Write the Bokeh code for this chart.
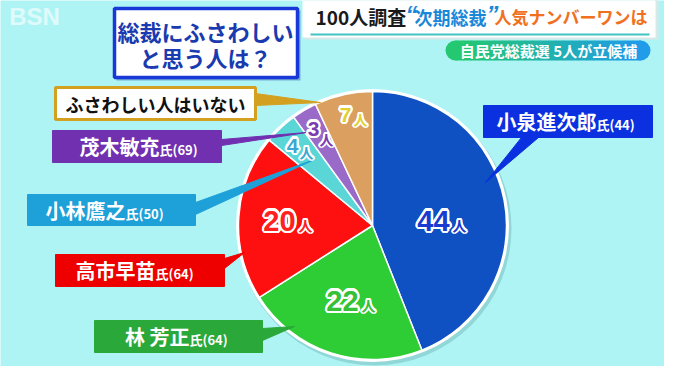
import math
from bokeh.plotting import figure
from bokeh.models import Range1d, ColumnDataSource
from bokeh.core.properties import value
from bokeh.embed import file_html
from bokeh.resources import INLINE

# ---------------- data ----------------
names = ["小泉進次郎", "林 芳正", "高市早苗", "小林鷹之", "茂木敏充", "ふさわしい人はいない"]
ages = ["(44)", "(64)", "(64)", "(50)", "(69)", ""]
counts = [44, 22, 20, 4, 3, 7]
unit = "人"
title_black = "100人調査"
title_blue = "次期総裁"
title_orange = "人気ナンバーワンは"
subtitle = "自民党総裁選 5人が立候補"
question = ["総裁にふさわしい", "と思う人は？"]

# ---------------- styles ----------------
BG = "#aff4f4"
JP = value("Noto Sans CJK JP")
pie_colors = ["#0f50c2", "#2ecc35", "#ff1010", "#5ad6d6", "#9a6ac8", "#dba060"]
num_colors = ["#1a3ad0", "#36c036", "#ff2020", "#3aa8d0", "#7a3ab0", "#e2d030"]
box_fill = ["#0a30e0", "#2ba83a", "#ee0000", "#1ea0d8", "#7030b0", "#ffffff"]
box_line = ["#0a30e0", "#2ba83a", "#ee0000", "#1ea0d8", "#7030b0", "#d4a020"]
lead_color = ["#0a30e0", "#2ba83a", "#ee0000", "#1ea0d8", "#7030b0", "#d4a020"]
text_color = ["white", "white", "white", "white", "white", "#111111"]

# layout (image pixel coords, y down)
CX, CY, R = 380, 233, 134
box_l = [491, 102, 63, 35, 60, 63]
box_r = [660, 270, 232, 203, 229, 263]
box_t = [113, 328, 262, 202, 138, 95]
box_b = [145, 360, 294, 233, 170, 127]
split_x = [604, 197, 163, 133, 167, 164]
name_size = ["20px", "20px", "20px", "20px", "20px", "18px"]
leaders = [
    [(529, 145), (546, 145), (493, 190)],
    [(270, 336), (270, 348), (302, 334)],
    [(232, 266), (232, 276), (252, 260)],
    [(203, 210), (203, 222), (322, 167)],
    [(229, 147), (229, 153), (314, 140)],
    [(263, 101), (263, 113), (328, 110)],
]
num_x = [441, 350, 287, 300, 321, 353]
num_y = [228, 308, 228, 153, 136, 122]
num_size = ["29px", "29px", "29px", "21px", "21px", "21px"]
unit_dx = [26, 26, 26, 14, 13, 15]
unit_dy = [4, 4, 4, 6, 10, 4]


def Y(v):
    return 382 - v


p = figure(width=664, height=366, x_range=Range1d(8, 672), y_range=Range1d(8, 374),
           output_backend="svg", toolbar_location=None, min_border=0)
p.axis.visible = False
p.grid.visible = False
p.outline_line_color = None
p.background_fill_color = BG
p.border_fill_color = BG


def outlined(x, y, txt, font, size, color, align="center", width=2.2):
    offs = [(width * math.cos(k * math.pi / 8), width * math.sin(k * math.pi / 8)) for k in range(16)]
    p.text(x=[x] * len(offs), y=[y] * len(offs), text=[txt] * len(offs), x_offset=[o[0] for o in offs],
           y_offset=[o[1] for o in offs], text_font=font, text_font_size=size, text_font_style="bold",
           text_color="white", text_baseline="middle", text_align=align)
    p.text(x=[x], y=[y], text=[txt], text_font=font, text_font_size=size, text_font_style="bold",
           text_color=color, text_baseline="middle", text_align=align)


# ---- header ----
p.quad(left=[312], right=[666], top=[Y(4)], bottom=[Y(47)], fill_color="#d8e8e8", line_color=None)
p.quad(left=[310], right=[663], top=[Y(3)], bottom=[Y(45)], fill_color="white", line_color=None)
p.segment(x0=[318], y0=[Y(42)], x1=[657], y1=[Y(42)], line_color="#40c4c4", line_width=2)
p.text(x=[323], y=[Y(24)], text=[title_black], text_font=JP, text_font_size="19px",
       text_font_style="bold", text_color="#1a1a1a", text_baseline="middle", text_align="left")
p.text(x=[413, 494], y=[Y(22), Y(22)], text=["“", "”"], text_font=value("Liberation Sans"),
       text_font_size="24px", text_font_style="bold italic", text_color="#1a88d8",
       text_baseline="middle", text_align="left")
p.text(x=[422], y=[Y(24)], text=[title_blue], text_font=JP, text_font_size="18px",
       text_font_style="bold", text_color="#1a88d8", text_baseline="middle", text_align="left")
p.text(x=[502], y=[Y(24)], text=[title_orange], text_font=JP, text_font_size="17px",
       text_font_style="bold", text_color="#f07020", text_baseline="middle", text_align="left")

# subtitle pill with gradient
c0 = (0x24, 0xc8, 0x70)
c1 = (0x20, 0x9c, 0xe8)
n = 24
xs0, xs1 = 463, 648
lefts, rights, cols = [], [], []
for i in range(n):
    t = i / (n - 1)
    lefts.append(xs0 + (xs1 - xs0) * i / n)
    rights.append(xs0 + (xs1 - xs0) * (i + 1) / n + 0.5)
    cols.append("#%02x%02x%02x" % tuple(int(a + (b - a) * t) for a, b in zip(c0, c1)))
p.circle(x=[xs0, xs1], y=[Y(58), Y(58)], radius=10, fill_color=[cols[0], cols[-1]], line_color=None)
p.quad(left=lefts, right=rights, top=Y(48), bottom=Y(68), fill_color=cols, line_color=None)
p.text(x=[556], y=[Y(58)], text=[subtitle], text_font=JP, text_font_size="15px",
       text_font_style="bold", text_color="white", text_baseline="middle", text_align="center")

# BSN logo
p.text(x=[42], y=[Y(24)], text=["BSN"], text_font=value("Liberation Sans"), text_font_size="24px",
       text_font_style="bold", text_color="white", text_alpha=0.6, text_baseline="middle",
       text_align="center")

# question box
p.quad(left=[124], right=[308], top=[Y(18)], bottom=[Y(88)], fill_color="#0a2a90", fill_alpha=0.35,
       line_color=None)
p.quad(left=[122], right=[305], top=[Y(16)], bottom=[Y(85)], fill_color="white", line_color="#1838d8",
       line_width=3.5)
p.text(x=[213, 213], y=[Y(38), Y(64)], text=question, text_font=JP, text_font_size="22px",
       text_font_style="bold", text_color="#1a3ab0", text_baseline="middle", text_align="center")

# ---- pie ----
total = sum(counts)
starts, ends = [], []
acc = 0
for c in counts:
    starts.append(math.pi / 2 - 2 * math.pi * acc / total)
    acc += c
    ends.append(math.pi / 2 - 2 * math.pi * acc / total)

p.circle(x=[CX + 2], y=[Y(CY + 3)], radius=R + 3, fill_color="#3a8080", fill_alpha=0.25, line_color=None)
p.circle(x=[CX], y=[Y(CY)], radius=R + 2.5, fill_color="white", line_color=None)
src = ColumnDataSource(dict(start=starts, end=ends, color=pie_colors))
p.wedge(x=CX, y=Y(CY), radius=R, start_angle="start", end_angle="end", direction="clock",
        fill_color="color", line_color="white", line_width=1.5, source=src)

# ---- leaders ----
p.patches(xs=[[a[0] for a in L] for L in leaders], ys=[[Y(a[1]) for a in L] for L in leaders],
          fill_color=lead_color, line_color=lead_color, line_width=1)

# ---- label boxes ----
p.quad(left=box_l, right=box_r, top=[Y(v) for v in box_t], bottom=[Y(v) for v in box_b],
       fill_color=box_fill, line_color=box_line, line_width=[1, 1, 1, 1, 1, 3])
for i in range(6):
    cy = (box_t[i] + box_b[i]) / 2
    if ages[i]:
        p.text(x=[split_x[i]], y=[Y(cy)], text=[names[i]], text_font=JP, text_font_size=name_size[i],
               text_font_style="bold", text_color=text_color[i], text_baseline="middle",
               text_align="right")
        p.text(x=[split_x[i]], y=[Y(cy + 3)], text=["氏" + ages[i]], text_font=JP,
               text_font_size="13px", text_font_style="bold", text_color=text_color[i],
               text_baseline="middle", text_align="left")
    else:
        p.text(x=[(box_l[i] + box_r[i]) / 2], y=[Y(cy)], text=[names[i]], text_font=JP,
               text_font_size=name_size[i], text_font_style="bold", text_color=text_color[i],
               text_baseline="middle", text_align="center")

# ---- slice numbers ----
for i in range(6):
    outlined(num_x[i], Y(num_y[i]), str(counts[i]), value("Liberation Sans"), num_size[i], num_colors[i])
    outlined(num_x[i] + unit_dx[i], Y(num_y[i] + unit_dy[i]), unit, JP, "14px", num_colors[i], width=1.8)

open("out.html", "w").write(file_html(p, INLINE))
